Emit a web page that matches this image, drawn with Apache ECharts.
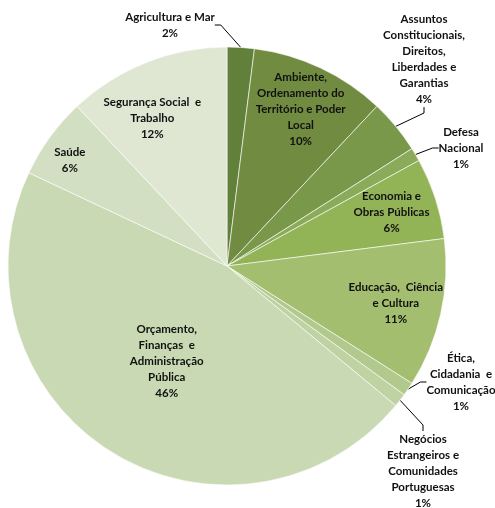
<!DOCTYPE html>
<html>
<head>
<meta charset="utf-8">
<script src="https://cdn.jsdelivr.net/npm/echarts@6/dist/echarts.min.js"></script>
<style>
  html, body { margin: 0; padding: 0; background: #ffffff; }
  #chart { width: 495px; height: 508px; }
</style>
</head>
<body>
<div id="chart"></div>
<script>
// Committee areas, clockwise from 12 o'clock
const categories = [
  'Agricultura e Mar',
  'Ambiente,\nOrdenamento do\nTerritório e Poder\nLocal',
  'Assuntos\nConstitucionais,\nDireitos,\nLiberdades e\nGarantias',
  'Defesa\nNacional',
  'Economia e\nObras Públicas',
  'Educação,  Ciência\ne Cultura',
  'Ética,\nCidadania  e\nComunicação',
  'Negócios\nEstrangeiros e\nComunidades\nPortuguesas',
  'Orçamento,\nFinanças  e\nAdministração\nPública',
  'Saúde',
  'Segurança Social  e\nTrabalho'
];
// Share of each area, in percent
const shares = [2, 10, 4, 1, 6, 11, 1, 1, 46, 6, 12];

const sliceColors = [
  '#61803a', '#718b41', '#7a984a', '#8bab5b', '#93b357', '#a3be6e',
  '#b1c98c', '#bed3a1', '#c9d9b3', '#d3dfc2', '#dfe7d3'
];

// How each slice is labelled: 'out' = outside with a leader line,
// 'mid' = half radius, 'ring' = near the rim, 'far' = closer to the rim
const labelPlacement = ['out', 'ring', 'out', 'out', 'ring', 'ring', 'out', 'out', 'mid', 'far', 'ring'];

// Centres of the outside label blocks
const outsideLabelSpots = {
  0: [170, 25],
  2: [424, 59],
  3: [461, 148],
  6: [461, 382],
  7: [423, 471]
};

// Small shifts for a few inside labels
const insideLabelNudges = {
  9: [-1, 8],
  10: [-11, 13]
};

const CENTER = [227, 266];
const R = 219;

const textStyle = {
  fontFamily: 'Lato',
  fontWeight: 'bold',
  fontSize: 11.5,
  lineHeight: 16,
  color: '#111111',
  align: 'center'
};

function buildData(kind, visible) {
  return categories.map((name, i) => {
    const wanted = labelPlacement[i] === kind || (kind === 'main' && (labelPlacement[i] === 'out' || labelPlacement[i] === 'mid'));
    const item = {
      name: name,
      value: shares[i],
      itemStyle: visible
        ? { color: sliceColors[i], borderColor: 'rgba(255,255,255,0.75)', borderWidth: 0.8 }
        : { color: 'rgba(0,0,0,0)', borderWidth: 0 },
      label: { show: wanted },
      labelLine: { show: false }
    };
    if (kind === 'main' && labelPlacement[i] === 'out') {
      item.label.position = 'outside';
      item.labelLine = { show: true, length: 10, length2: 6, lineStyle: { color: '#000', width: 1 } };
    } else if (wanted) {
      item.label.position = 'inside';
    }
    return item;
  });
}

function nudgeLayout(params) {
  const n = insideLabelNudges[params.dataIndex];
  return n ? { dx: n[0], dy: n[1] } : {};
}

function labelSeries(kind, inner) {
  return {
    type: 'pie',
    center: CENTER,
    radius: [inner, R],
    startAngle: 90,
    clockwise: true,
    silent: true,
    avoidLabelOverlap: false,
    animation: false,
    label: Object.assign({ formatter: '{b}\n{c}%', rotate: 0 }, textStyle),
    labelLayout: nudgeLayout,
    emphasis: { disabled: true },
    data: buildData(kind, false)
  };
}

const chart = echarts.init(document.getElementById('chart'), null, { renderer: 'canvas' });

chart.setOption({
  backgroundColor: '#ffffff',
  animation: false,
  series: [
    {
      type: 'pie',
      center: CENTER,
      radius: [0, R],
      startAngle: 90,
      clockwise: true,
      avoidLabelOverlap: false,
      animation: false,
      label: Object.assign({ formatter: '{b}\n{c}%', rotate: 0 }, textStyle),
      emphasis: { disabled: true },
      labelLayout: function (params) {
        const spot = outsideLabelSpots[params.dataIndex];
        if (!spot) return {};
        return { x: spot[0], y: spot[1], align: 'center', verticalAlign: 'middle' };
      },
      data: buildData('main', true)
    },
    labelSeries('ring', 121),
    labelSeries('far', 161)
  ]
});
</script>
</body>
</html>
